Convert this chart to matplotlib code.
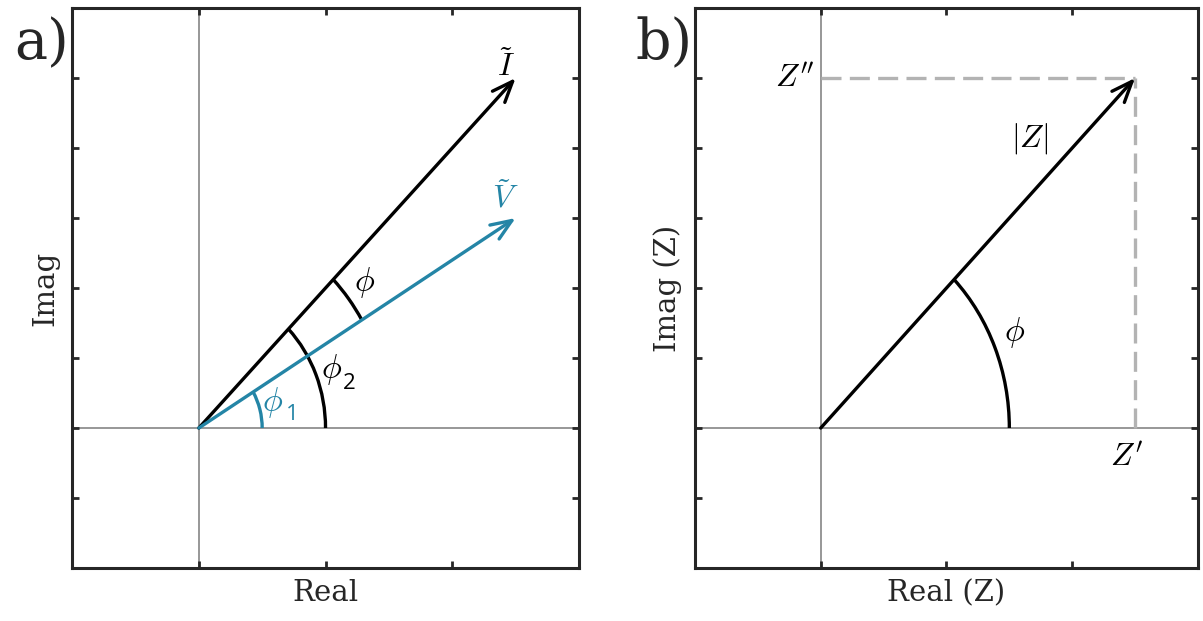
import numpy as np
import matplotlib
matplotlib.use("Agg")
import matplotlib.pyplot as plt
from matplotlib.patches import Arc

plt.rcParams['font.family'] = ['DejaVu Serif']
plt.rcParams['mathtext.fontset'] = 'cm'

# phasors (data units)
I_vec = [2.5, 2.5]
V_vec = [2.5, 1.5]
Z_vec = [2.5, 2.5]

xlim = [-1, 3]
ylim = [-1, 3]
xticks = [-1, 0, 1, 2, 3]
yticks = [-1, -0.5, 0, 0.5, 1, 1.5, 2, 2.5, 3]

BLUE = '#2485a6'
DARK = '#262626'
LW = 2.4


def ang(v):
    return np.degrees(np.arctan2(v[1], v[0]))


def style_axes(ax):
    ax.set_xlim(xlim)
    ax.set_ylim(ylim)
    ax.set_xticks(xticks)
    ax.set_yticks(yticks)
    ax.tick_params(direction='in', length=5, width=2, color=DARK,
                   top=True, right=True, labelbottom=False, labelleft=False)
    for s in ax.spines.values():
        s.set_linewidth(2.2)
        s.set_color(DARK)
    ax.axhline(0, color='#7a7a7a', lw=1.1, zorder=1)
    ax.axvline(0, color='#7a7a7a', lw=1.1, zorder=1)


def arrow(ax, v, color):
    ax.annotate('', xy=(v[0], v[1]), xytext=(0, 0),
                arrowprops=dict(arrowstyle='->,head_length=0.75,head_width=0.3',
                                lw=LW, color=color, mutation_scale=20,
                                shrinkA=0, shrinkB=0), zorder=3)


def sub_label(ax, x, y, dx, dy, sub, color):
    # phi with an upright sans subscript
    ax.text(x, y, r'$\phi$', fontsize=24, ha='center', va='center', color=color)
    ax.text(x + dx, y + dy, sub, fontsize=16, ha='center', va='center',
            color=color, family='Open Sans')


fig = plt.figure(figsize=(12.03, 6.21), dpi=100)
ax1 = fig.add_axes([0.0599, 0.0853, 0.4214, 0.9018])
ax2 = fig.add_axes([0.5777, 0.0853, 0.4181, 0.9018])

# ---- panel a
style_axes(ax1)
arrow(ax1, I_vec, 'black')
arrow(ax1, V_vec, BLUE)
ax1.add_patch(Arc((0, 0), 2.0, 2.0, theta1=0, theta2=ang(I_vec), lw=LW, color='black'))
ax1.add_patch(Arc((0, 0), 1.0, 1.0, theta1=0, theta2=ang(V_vec), lw=LW, color=BLUE))
ax1.add_patch(Arc((0, 0), 3.0, 3.0, theta1=ang(V_vec), theta2=ang(I_vec), lw=LW, color='black'))
ax1.text(2.42, 2.58, r'$\tilde{I}$', fontsize=23, ha='center', va='center')
ax1.text(2.42, 1.64, r'$\tilde{V}$', fontsize=23, ha='center', va='center', color=BLUE)
ax1.text(1.31, 1.04, r'$\phi$', fontsize=24, ha='center', va='center')
sub_label(ax1, 1.05, 0.42, 0.14, -0.1, '2', 'black')
sub_label(ax1, 0.58, 0.18, 0.16, -0.08, '1', BLUE)
ax1.set_xlabel('Real', fontsize=21, labelpad=8, color=DARK)
ax1.set_ylabel('Imag', fontsize=21, labelpad=9, color=DARK)

# ---- panel b
style_axes(ax2)
ax2.plot([0, Z_vec[0]], [Z_vec[1], Z_vec[1]], color='#b3b3b3', lw=LW,
         dashes=(6, 2.5), zorder=2)
ax2.plot([Z_vec[0], Z_vec[0]], [0, Z_vec[1]], color='#b3b3b3', lw=LW,
         dashes=(6, 2.5), zorder=2)
arrow(ax2, Z_vec, 'black')
ax2.add_patch(Arc((0, 0), 3.0, 3.0, theta1=0, theta2=ang(Z_vec), lw=LW, color='black'))
ax2.text(1.54, 0.68, r'$\phi$', fontsize=24, ha='center', va='center')
ax2.text(1.66, 2.07, r'$|Z|$', fontsize=23, ha='center', va='center')
ax2.text(-0.21, 2.5, r"$Z''$", fontsize=23, ha='center', va='center')
ax2.text(2.43, -0.21, r"$Z'$", fontsize=23, ha='center', va='center')
ax2.set_xlabel('Real (Z)', fontsize=21, labelpad=8, color=DARK)
ax2.set_ylabel('Imag (Z)', fontsize=21, labelpad=9, color=DARK)

fig.text(0.035, 0.93, 'a)', fontsize=40, ha='center', va='center', color=DARK)
fig.text(0.552, 0.93, 'b)', fontsize=40, ha='center', va='center', color=DARK)

fig.savefig('out.png', dpi=100)
